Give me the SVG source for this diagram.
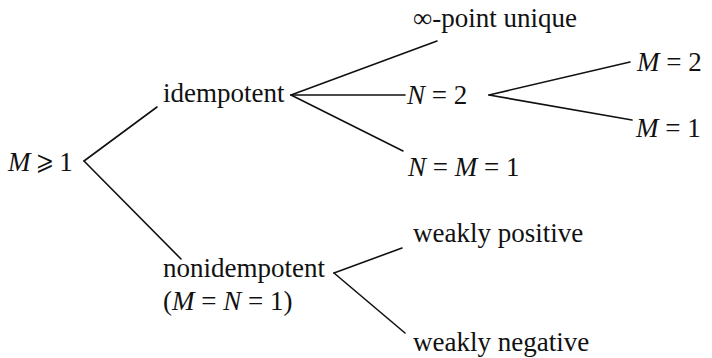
<svg xmlns="http://www.w3.org/2000/svg" width="712" height="358" viewBox="0 0 712 358">
<style>
text{font-family:"Liberation Serif",Tinos,"Nimbus Roman","Noto Serif",FreeSerif,Times,"Times New Roman",serif;font-size:27px;fill:#111;}
.i{font-style:italic;}
.c line{stroke:#111;stroke-width:1.6;stroke-linecap:round;}
</style>
<rect width="712" height="358" fill="#fff"/>
<g class="c" id="connectors">
<line x1="84" y1="161" x2="157" y2="107"/>
<line x1="84" y1="161" x2="181" y2="259"/>
<line x1="291" y1="95" x2="437" y2="41"/>
<line x1="291" y1="95" x2="405" y2="95"/>
<line x1="291" y1="95" x2="403" y2="151"/>
<line x1="489" y1="95" x2="630" y2="62"/>
<line x1="489" y1="95" x2="632" y2="120"/>
<line x1="334" y1="273" x2="402" y2="248"/>
<line x1="334" y1="273" x2="405" y2="333"/>
</g>
<g id="root"><text x="8" y="171"><tspan class="i">M</tspan> ⩾ 1</text></g>
<g id="idempotent"><text x="163" y="102">idempotent</text></g>
<g id="nonidempotent"><text x="163" y="277">nonidempotent</text><text x="163" y="310">(<tspan class="i">M</tspan> = <tspan class="i">N</tspan> = 1)</text></g>
<g id="inf"><text x="413" y="27">∞-point unique</text></g>
<g id="n2"><text x="407" y="104"><tspan class="i">N</tspan> = 2</text></g>
<g id="nm1"><text x="408" y="176"><tspan class="i">N</tspan> = <tspan class="i">M</tspan> = 1</text></g>
<g id="m2"><text x="637" y="71"><tspan class="i">M</tspan> = 2</text></g>
<g id="m1"><text x="636" y="137"><tspan class="i">M</tspan> = 1</text></g>
<g id="wpos"><text x="413" y="242">weakly positive</text></g>
<g id="wneg"><text x="413" y="351">weakly negative</text></g>
</svg>
